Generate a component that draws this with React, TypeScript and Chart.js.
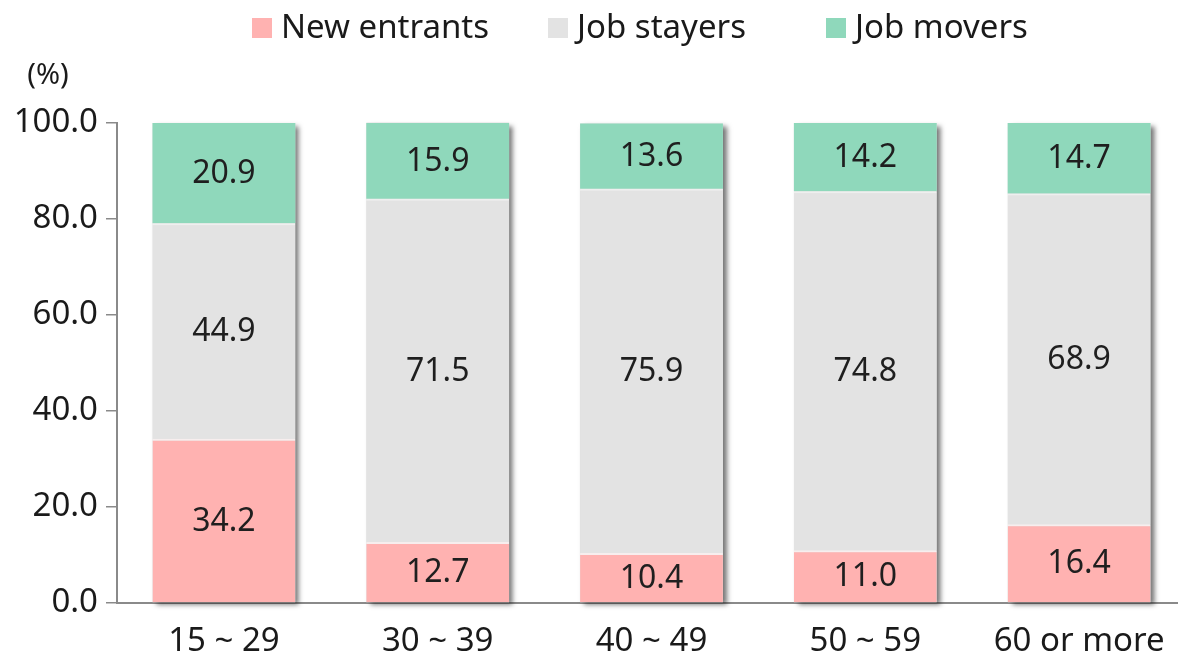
import React, { useEffect, useRef } from "react";
import { Chart, registerables } from "chart.js";

Chart.register(...registerables);

// Share of workers by age group (%)
const ageGroups = ["15 ~ 29", "30 ~ 39", "40 ~ 49", "50 ~ 59", "60 or more"];
const newEntrants = [34.2, 12.7, 10.4, 11.0, 16.4];
const jobStayers = [44.9, 71.5, 75.9, 74.8, 68.9];
const jobMovers = [20.9, 15.9, 13.6, 14.2, 14.7];
const seriesNames = ["New entrants", "Job stayers", "Job movers"];
const seriesColors = ["#ffb2b1", "#e3e3e3", "#8fd8bb"];
const yMin = 0;
const yMax = 100;
const yStep = 20;
const unitLabel = "(%)";

const NUM_FONT = '"Noto Sans", "DejaVu Sans", sans-serif';

// Soft drop shadow behind each full stacked column
const columnShadow = {
  id: "columnShadow",
  beforeDatasetsDraw(chart: any) {
    const { ctx } = chart;
    const n = chart.data.datasets.length;
    const bottomMeta = chart.getDatasetMeta(0);
    const topMeta = chart.getDatasetMeta(n - 1);
    ctx.save();
    ctx.shadowColor = "rgba(0,0,0,0.55)";
    ctx.shadowBlur = 5;
    ctx.shadowOffsetX = 4;
    ctx.shadowOffsetY = 3;
    ctx.fillStyle = "#e3e3e3";
    bottomMeta.data.forEach((bar: any, i: number) => {
      const p = bar.getProps(["x", "width", "base"], true);
      const t = topMeta.data[i].getProps(["y"], true);
      ctx.fillRect(p.x - p.width / 2, t.y, p.width, p.base - t.y);
    });
    ctx.restore();
  },
};

// Value printed in the middle of each stacked segment
const segmentValues = {
  id: "segmentValues",
  afterDatasetsDraw(chart: any) {
    const { ctx } = chart;
    ctx.save();
    ctx.font = `32px ${NUM_FONT}`;
    ctx.fillStyle = "#1f1f1f";
    ctx.textAlign = "center";
    ctx.textBaseline = "middle";
    chart.data.datasets.forEach((ds: any, di: number) => {
      chart.getDatasetMeta(di).data.forEach((bar: any, i: number) => {
        const p = bar.getProps(["x", "y", "base"], true);
        ctx.fillText(Number(ds.data[i]).toFixed(1), p.x, (p.y + p.base) / 2 + 1);
      });
    });
    ctx.restore();
  },
};

// Legend row across the top plus the unit caption above the value axis
const headerLegend = {
  id: "headerLegend",
  afterDraw(chart: any, _args: any, opts: any) {
    const { ctx } = chart;
    ctx.save();
    ctx.font = opts.font;
    ctx.textBaseline = "middle";
    ctx.textAlign = "left";
    chart.data.datasets.forEach((ds: any, i: number) => {
      const x = opts.itemX[i];
      ctx.fillStyle = ds.backgroundColor;
      ctx.fillRect(x, opts.y - opts.box / 2, opts.box, opts.box);
      ctx.fillStyle = opts.color;
      ctx.fillText(ds.label, x + opts.box + opts.gap, opts.y + 1);
    });
    ctx.font = opts.unitFont;
    ctx.textAlign = "center";
    ctx.fillStyle = opts.color;
    ctx.fillText(unitLabel, opts.unitX, opts.unitY);
    ctx.restore();
  },
};

export default function App() {
  const canvasRef = useRef<HTMLCanvasElement | null>(null);

  useEffect(() => {
    const canvas = canvasRef.current;
    if (!canvas) return;
    const values = [newEntrants, jobStayers, jobMovers];
    const chart = new Chart(canvas, {
      type: "bar",
      data: {
        labels: ageGroups,
        datasets: seriesNames.map((name, i) => ({
          label: name,
          data: values[i],
          backgroundColor: seriesColors[i],
          borderWidth: i < seriesNames.length - 1 ? { top: 2, left: 0, right: 0, bottom: 0 } : 0,
          borderColor: i === 0 ? "#f7eeee" : "#efefef",
          borderSkipped: false,
          categoryPercentage: 1,
          barPercentage: 0.668,
        })),
      },
      options: {
        responsive: false,
        animation: false,
        events: [],
        layout: { padding: { top: 123, left: 0, right: 0, bottom: 0 } },
        plugins: {
          legend: { display: false },
          tooltip: { enabled: false },
          headerLegend: {
            font: `33px ${NUM_FONT}`,
            unitFont: `29px ${NUM_FONT}`,
            color: "#1a1a1a",
            itemX: [252, 548, 826],
            y: 28,
            box: 20,
            gap: 9,
            unitX: 48,
            unitY: 76,
          },
        } as any,
        scales: {
          x: {
            stacked: true,
            grid: { display: false, drawTicks: false },
            border: { display: true, color: "#8a8a8a", width: 2 },
            ticks: {
              color: "#1a1a1a",
              padding: 19,
              font: { family: NUM_FONT, size: 33 },
              maxRotation: 0,
              autoSkip: false,
            },
            afterFit(scale: any) {
              scale.height = 53;
            },
          },
          y: {
            stacked: true,
            min: yMin,
            max: yMax,
            grid: {
              drawOnChartArea: false,
              drawTicks: true,
              tickLength: 11,
              color: "#8a8a8a",
              lineWidth: 1.5,
            },
            border: { display: true, color: "#8a8a8a", width: 2 },
            ticks: {
              stepSize: yStep,
              color: "#1a1a1a",
              padding: 8,
              font: { family: NUM_FONT, size: 33 },
              callback: (v: any) => Number(v).toFixed(1),
            },
            afterFit(scale: any) {
              scale.width = 117;
            },
          },
        },
      },
      plugins: [columnShadow, segmentValues, headerLegend],
    });
    return () => chart.destroy();
  }, []);

  return (
    <div
      style={{
        position: "absolute",
        left: 0,
        top: 0,
        width: 1178,
        height: 656,
        overflow: "hidden",
        background: "#ffffff",
      }}
    >
      <canvas ref={canvasRef} width={1186} height={656} style={{ display: "block" }} />
    </div>
  );
}
